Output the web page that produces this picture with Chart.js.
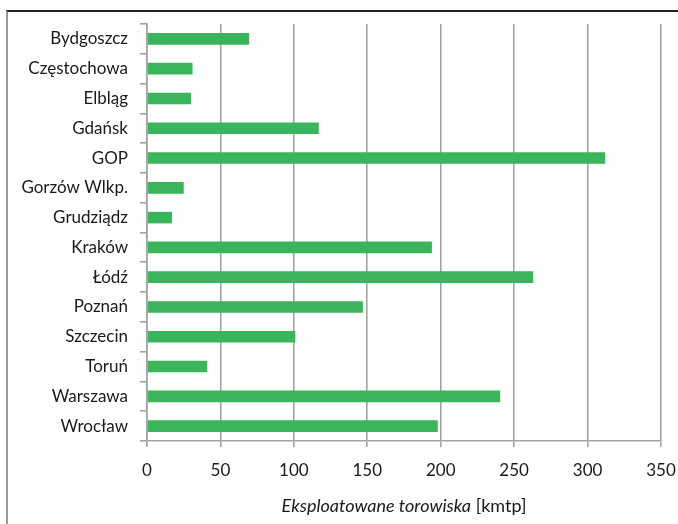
<!DOCTYPE html>
<html>
<head>
<meta charset="utf-8">
<script src="https://cdn.jsdelivr.net/npm/chart.js@4"></script>
<style>
  body { margin: 0; background: #fff; }
  #wrap { position: relative; width: 678px; height: 524px; }
  #frame { position: absolute; left: 6px; top: 10px; right: 0; bottom: 0;
           border-top: 2px solid #222; border-left: 2px solid #9a9a9a; }
  canvas { position: absolute; left: 0; top: 0; }
</style>
</head>
<body>
<div id="wrap">
  <div id="frame"></div>
  <canvas id="myChart" width="678" height="524"></canvas>
</div>
<script>
// miasta i dlugosc eksploatowanych torowisk
var cities = ['Bydgoszcz', 'Częstochowa', 'Elbląg', 'Gdańsk', 'GOP', 'Gorzów Wlkp.', 'Grudziądz',
              'Kraków', 'Łódź', 'Poznań', 'Szczecin', 'Toruń', 'Warszawa', 'Wrocław'];
var kmtp = [69.5, 31, 30, 117, 312, 25, 17, 194, 263, 147, 101, 41, 240.5, 198];
var xTicks = [0, 50, 100, 150, 200, 250, 300, 350];
var titleItalic = 'Eksploatowane torowiska';
var titleNormal = ' [kmtp]';

var FONT = 'Lato, "Liberation Sans", sans-serif';
var gridGray = '#a3a3a3';
var tickSize = 17;
var titleSize = 18;

// podpis osi X: czesc kursywa, czesc zwykla
var axisTitle = {
    id: 'axisTitle',
    afterDraw: function(chart) {
        var c = chart.ctx;
        var area = chart.chartArea;
        c.save();
        c.fillStyle = '#1a1a1a';
        c.textBaseline = 'alphabetic';
        c.font = 'italic ' + titleSize + 'px ' + FONT;
        var w1 = c.measureText(titleItalic).width;
        c.font = titleSize + 'px ' + FONT;
        var w2 = c.measureText(titleNormal).width;
        var x = (area.left + area.right) / 2 - (w1 + w2) / 2;
        var y = 512;
        c.font = 'italic ' + titleSize + 'px ' + FONT;
        c.fillText(titleItalic, x, y);
        c.font = titleSize + 'px ' + FONT;
        c.fillText(titleNormal, x + w1, y);
        c.restore();
    }
};

var ctx = document.getElementById('myChart').getContext('2d');
var myChart = new Chart(ctx, {
    type: 'bar',
    data: {
        labels: cities,
        datasets: [{
            data: kmtp,
            backgroundColor: 'rgb(58,181,92)',
            borderWidth: 0,
            categoryPercentage: 1,
            barPercentage: 0.39
        }]
    },
    options: {
        indexAxis: 'y',
        responsive: false,
        animation: false,
        layout: { padding: { top: 24, right: 17, left: 0, bottom: 0 } },
        plugins: { legend: { display: false }, tooltip: { enabled: false } },
        scales: {
            x: {
                min: 0, max: 350,
                afterBuildTicks: function(scale) {
                    scale.ticks = xTicks.map(function(v) { return { value: v }; });
                },
                afterFit: function(scale) {
                    scale.height = 83;
                    scale.paddingLeft = 0;
                    scale.paddingRight = 0;
                },
                grid: { color: gridGray, lineWidth: 1.6, tickLength: 6 },
                border: { color: gridGray, width: 1.6 },
                ticks: { color: '#1a1a1a', font: { family: FONT, size: tickSize }, padding: 13, maxRotation: 0 }
            },
            y: {
                afterFit: function(scale) {
                    scale.width = 147;
                    scale.paddingTop = 0;
                    scale.paddingBottom = 0;
                },
                grid: { drawOnChartArea: false, offset: true, color: gridGray, lineWidth: 1.6, tickLength: 7 },
                border: { color: gridGray, width: 1.6 },
                ticks: { color: '#1a1a1a', font: { family: FONT, size: tickSize }, padding: 12, autoSkip: false }
            }
        }
    },
    plugins: [axisTitle]
});
</script>
</body>
</html>
